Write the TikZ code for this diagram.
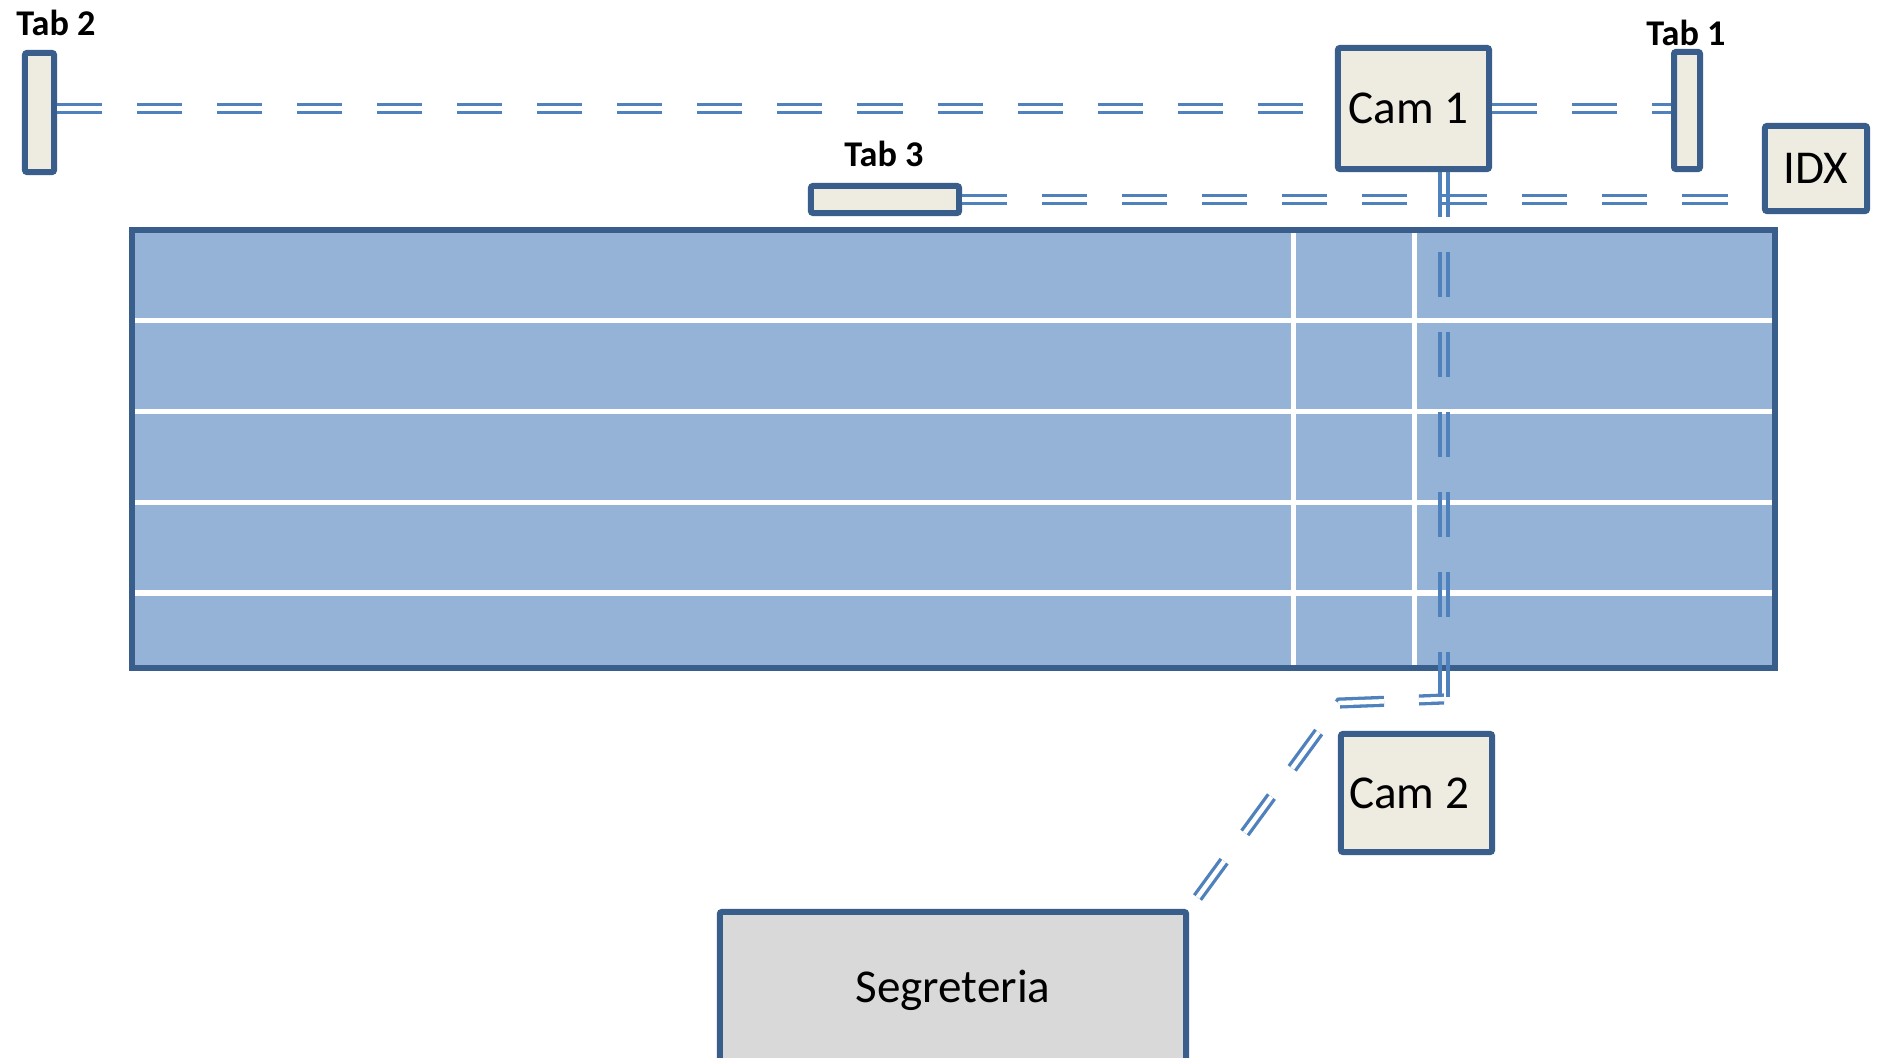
\documentclass[tikz,border=0pt]{standalone}
\usepackage{fontspec}
\setmainfont{Carlito}
\usetikzlibrary{calc}
\definecolor{edge}{HTML}{3A5E8C}
\definecolor{conn}{HTML}{4F81BD}
\definecolor{boxfill}{HTML}{EEECE1}
\definecolor{fieldfill}{HTML}{95B3D7}
\definecolor{segfill}{HTML}{D9D9D9}
\tikzset{
  box/.style={draw=edge, line width=0.06cm, fill=boxfill, rounded corners=0.02cm, inner sep=0pt,
    font=\fontsize{13.4}{16}\selectfont},
  fieldbox/.style={draw=edge, line width=0.06cm, fill=fieldfill, inner sep=0pt},
  tablabel/.style={font=\bfseries\fontsize{10.3}{12}\selectfont, inner sep=0pt},
  dl/.style={draw=conn, line width=0.033cm, double=white, double distance=0.045cm,
    dash pattern=on 0.45cm off 0.35cm},
  strand/.style={draw=conn, line width=0.033cm, dash pattern=on 0.45cm off 0.35cm},
  sepline/.style={draw=white, line width=0.05cm},
}
\begin{document}
\begin{tikzpicture}[x=0.01cm, y=-0.01cm]
\clip (0,0) rectangle (1878,1058);
\fill[white] (0,0) rectangle (1878,1058);
% field
\node[fieldbox, minimum width=16.43cm, minimum height=4.38cm] (field) at (953.5,449) {};
\foreach \yy in {321,412,503,593} \draw[sepline] (135,\yy) -- (1772,\yy);
\foreach \xx in {1293,1414} \draw[sepline] (\xx,233) -- (\xx,665);
% boxes
\node[box, minimum width=0.29cm, minimum height=1.19cm] (tab2) at (39.5,112.5) {};
\node[tablabel] (tab2l) at (56,23) {Tab 2};
\node[box, minimum width=1.51cm, minimum height=1.21cm] (cam1) at (1413.5,108.5) {Cam 1\hspace*{0.1cm}};
\node[box, minimum width=0.26cm, minimum height=1.17cm] (tab1) at (1687,110.5) {};
\node[tablabel] (tab1l) at (1686,33) {Tab 1};
\node[box, minimum width=1.02cm, minimum height=0.85cm] (idx) at (1816,168.5) {IDX};
\node[box, minimum width=1.48cm, minimum height=0.27cm] (tab3) at (885,199.5) {};
\node[tablabel] (tab3l) at (884,154) {Tab 3};
\node[box, minimum width=1.51cm, minimum height=1.18cm] (cam2) at (1416.5,793) {Cam 2\hspace*{0.15cm}};
\node[box, fill=segfill, minimum width=4.66cm, minimum height=1.56cm] (seg) at (953,990) {Segreteria};
% connectors
\draw[dl] (tab2.east |- cam1.west) -- (cam1.west);
\draw[dl] (cam1.east) -- (tab1.west |- cam1.east);
\draw[dl] (tab3.east) -- (idx.west |- tab3.east);
\coordinate (c1) at (1444,699);
\coordinate (c2) at (1340,703);
\draw[dl, dash phase=0.2cm] (c1) -- (c2) -- (seg.north east);
\draw[strand, transform canvas={xshift=-0.039cm}] (cam1.south -| c1) -- (c1);
\draw[strand, transform canvas={xshift=0.039cm}] (cam1.south -| c1) -- (c1);
\end{tikzpicture}
\end{document}
